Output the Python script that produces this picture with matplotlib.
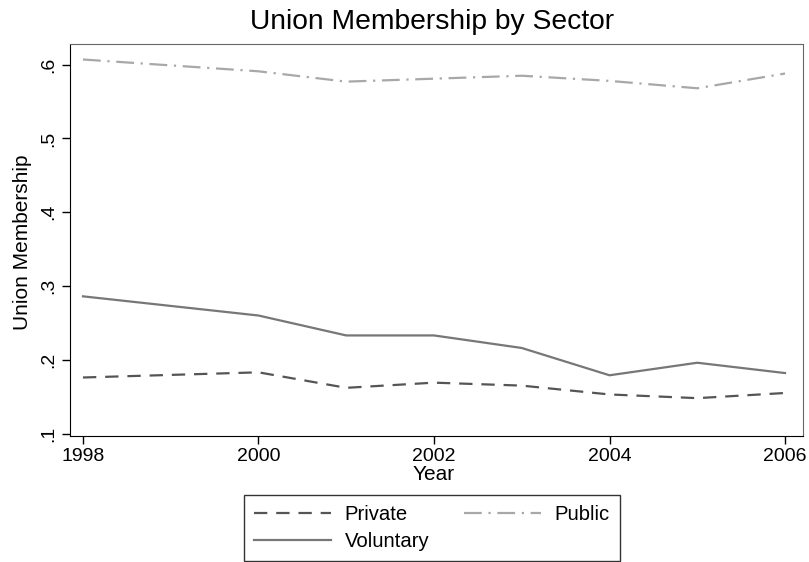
import matplotlib
matplotlib.use('Agg')
import matplotlib.pyplot as plt

plt.rcParams['font.family'] = ['Liberation Sans', 'DejaVu Sans']

years = [1998, 2000, 2001, 2002, 2003, 2004, 2005, 2006]
private = [0.176, 0.183, 0.162, 0.169, 0.165, 0.153, 0.148, 0.155]
public = [0.607, 0.591, 0.577, 0.581, 0.585, 0.578, 0.568, 0.588]
voluntary = [0.286, 0.260, 0.233, 0.233, 0.216, 0.179, 0.196, 0.182]

xticks = [1998, 2000, 2002, 2004, 2006]
yticks = [0.1, 0.2, 0.3, 0.4, 0.5, 0.6]
ytick_labels = ['.1', '.2', '.3', '.4', '.5', '.6']


def main():
    fig = plt.figure(figsize=(8.09, 5.62), dpi=100)
    ax = fig.add_axes([0.0865, 0.2242, 0.9061, 0.6975])

    l_priv, = ax.plot(years, private, color='#555555', linewidth=1.6,
                      linestyle=(0, (6, 4)), label='Private')
    l_pub, = ax.plot(years, public, color='#a8a8a8', linewidth=1.6,
                     linestyle=(0, (8, 3, 1, 3)), label='Public')
    l_vol, = ax.plot(years, voluntary, color='#777777', linewidth=1.6,
                     label='Voluntary')

    ax.set_xlim(1997.852, 2006.205)
    ax.set_ylim(0.0967, 0.628)
    ax.set_xticks(xticks)
    ax.set_xticklabels([str(y) for y in xticks], fontsize=14)
    ax.set_yticks(yticks)
    ax.set_yticklabels(ytick_labels, fontsize=14, rotation=90, va='center')
    ax.tick_params(direction='out', length=6, width=1, pad=3)

    for s in ['top', 'right']:
        ax.spines[s].set_color('#666666')

    # axis titles placed by hand, they sit tight against the tick labels
    fig.text(0.5363, 1 - 475 / 562, 'Year', fontsize=15,
             ha='center', va='center')
    fig.text(23 / 809, 1 - 242 / 562, 'Union Membership', fontsize=15,
             ha='center', va='center', rotation=90)
    fig.text(432 / 809, 1 - 22 / 562, 'Union Membership by Sector',
             fontsize=20.3, ha='center', va='center')

    lgd = fig.legend(handles=[l_priv, l_vol, l_pub], ncol=2,
                     loc='upper left', bbox_to_anchor=(244 / 809, 1 - 495 / 562),
                     borderaxespad=0, fontsize=14.6, frameon=True,
                     fancybox=False, edgecolor='black', handlelength=3.8,
                     handletextpad=0.67, columnspacing=1.7,
                     labelspacing=0.38, borderpad=0.5)
    lgd.get_frame().set_linewidth(1.0)

    fig.savefig('out.png', dpi=100)


if __name__ == "__main__":
    main()
